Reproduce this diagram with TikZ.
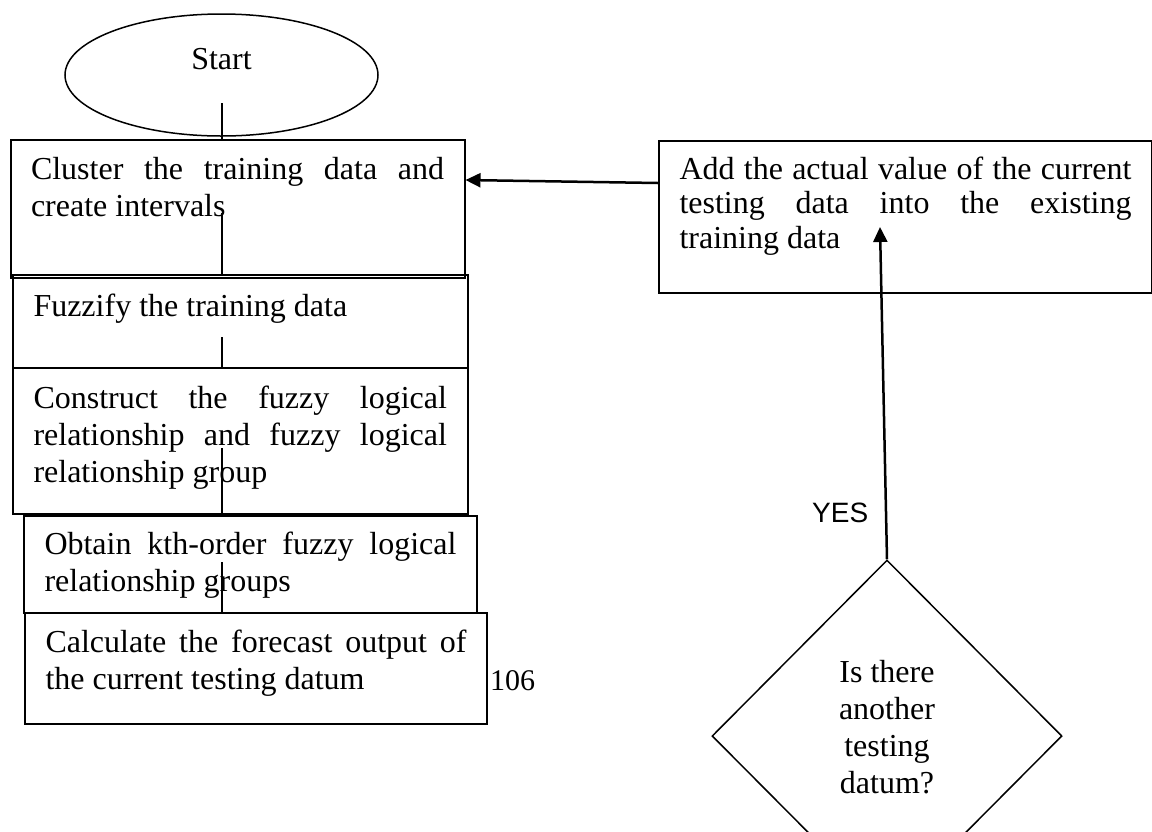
\documentclass[tikz,border=0pt]{standalone}
\usepackage{fontspec}
\setmainfont{Liberation Serif}
\newfontfamily\labelsans{Liberation Sans}
\usetikzlibrary{shapes.geometric,arrows.meta}

% justified paragraph in a box of fixed height; #1 width, #2 height, #3 space above first line
\newcommand\flowpar[4]{%
  \vbox to #2{\hsize=#1\relax\parindent=0pt\tolerance=10000\hbadness=10000
    \hyphenpenalty=10000\exhyphenpenalty=10000
    \vskip#3\relax\strut#4\par\vss}}

\tikzset{
  flowbox/.style={draw, line width=2pt, rectangle, anchor=north west,
    inner xsep=20.5pt, inner ysep=0pt, font=\fontsize{32}{37}\selectfont},
  link/.style={line width=2pt},
  arrowlink/.style={line width=2.5pt, -{Triangle[length=15pt,width=14pt]}},
  plain/.style={inner sep=0pt, font=\fontsize{32}{37}\selectfont},
}

\begin{document}
\begin{tikzpicture}[x=1pt, y=-1pt]
  \fill[white] (0,0) rectangle (1152,831);
  \useasboundingbox (0,0) rectangle (1152,831);

  % start terminal
  \node[ellipse, draw, line width=1.5pt, minimum width=313pt, minimum height=122pt,
        inner sep=0pt] (start) at (221.5,75) {};
  \node[plain, anchor=base] (starttext) at (221.5,69) {Start};

  % process steps
  \node[flowbox] (c1) at (9.5,139)
    {\flowpar{413pt}{138pt}{13.1pt}{Cluster the training data and\linebreak create intervals}};
  \node[flowbox] (c2) at (12,274)
    {\flowpar{413.5pt}{93pt}{15.1pt}{Fuzzify the training data}};
  \node[flowbox] (c3) at (12,367)
    {\flowpar{413.5pt}{145.5pt}{14.1pt}{Construct the fuzzy logical\linebreak relationship and fuzzy logical\linebreak relationship group}};
  \node[flowbox] (c4) at (23,515)
    {\flowpar{412pt}{97pt}{12.1pt}{Obtain kth-order fuzzy logical\linebreak relationship groups}};
  \node[flowbox] (c5) at (24,612)
    {\flowpar{421pt}{111pt}{13.1pt}{Calculate the forecast output of\linebreak the current testing datum}};
  \node[plain, anchor=base west, font=\fontsize{30}{36}\selectfont] (pagenum) at (490,690) {106};

  % update step
  \node[flowbox, font=\fontsize{32}{34.5}\selectfont] (add) at (658,140)
    {\flowpar{452pt}{152pt}{13.85pt}{Add the actual value of the current\linebreak testing data into the existing\linebreak training data}};

  % decision
  \node[diamond, draw, line width=1.5pt, minimum width=350pt, minimum height=352pt,
        inner sep=0pt] (dec) at (887,736) {};
  \node[plain, anchor=north, align=center] (dectext) at (887,656)
    {\strut Is there\\another\\testing\\datum?};
  \node[inner sep=0pt, anchor=base west, font=\labelsans\fontsize{28}{34}\selectfont] (yes) at (812,522) {YES};

  % connectors between the steps
  \coordinate (s0) at (222,103);
  \coordinate (t1) at (222,213);
  \coordinate (t2) at (222,337);
  \coordinate (t3) at (222,448);
  \coordinate (t4) at (222,562);
  \draw[link] (s0) -- (s0 |- c1.north);
  \draw[link] (t1) -- (t1 |- c2.north);
  \draw[link] (t2) -- (t2 |- c3.north);
  \draw[link] (t3) -- (t3 |- c4.north);
  \draw[link] (t4) -- (t4 |- c5.north);

  % feedback arrows
  \coordinate (a0) at (658,183);
  \coordinate (a1) at (464,180);
  \coordinate (a2) at (880,227);
  \draw[arrowlink] (add.west |- a0) -- (c1.east |- a1);
  \draw[arrowlink] (dec.north) -- (a2);
\end{tikzpicture}
\end{document}
